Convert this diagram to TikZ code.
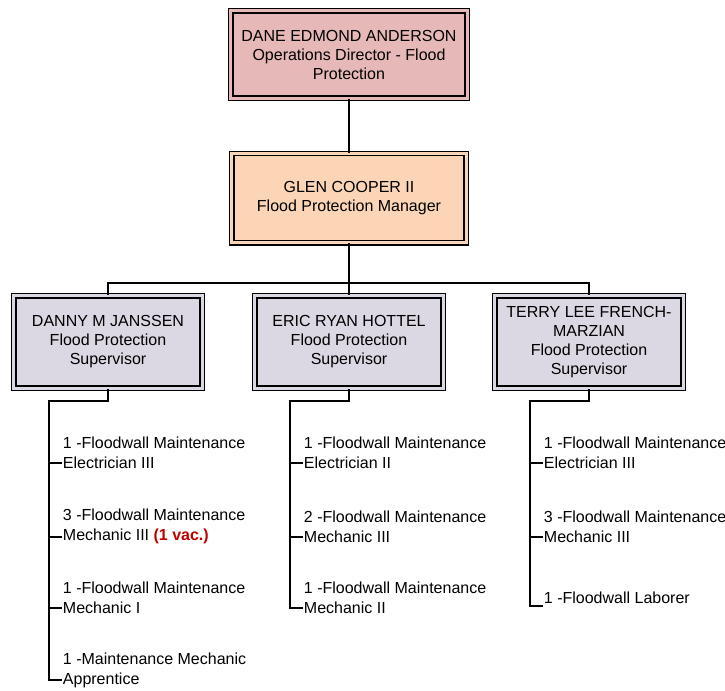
\documentclass[tikz,border=0pt]{standalone}
\usepackage{fontspec}
\setmainfont{Liberation Sans}
\definecolor{chiefpink}{HTML}{E6B8B7}
\definecolor{mgrpeach}{HTML}{FBD5B5}
\definecolor{supgray}{HTML}{DCD8E3}
\definecolor{vacred}{HTML}{C00000}
\begin{document}
\begin{tikzpicture}[x=0.75pt, y=-0.75pt, font=\fontsize{12}{14.25}\selectfont,
  box/.style={draw, line width=1pt, double distance=2.25pt, align=center, inner sep=2pt},
  chief/.style={box, fill=chiefpink, double=chiefpink, minimum width=177.25pt, minimum height=65.5pt},
  mgr/.style={box, fill=mgrpeach, double=mgrpeach, minimum width=175.75pt, minimum height=67pt},
  sup/.style={box, fill=supgray, double=supgray, minimum width=141.25pt, minimum height=69.25pt},
  post/.style={align=left, anchor=west, inner sep=0.5pt, font=\fontsize{12}{15}\selectfont},
  link/.style={line width=1.5pt}]
\useasboundingbox (0,0) rectangle (725,690);

\node[chief] (dir) at (349,54.5) {DANE EDMOND ANDERSON\\Operations Director - Flood\\Protection};
\node[mgr] (fpm) at (349,198) {GLEN COOPER II\\Flood Protection Manager};
\node[sup] (janssen) at (108,342) {DANNY M JANSSEN\\Flood Protection\\Supervisor};
\node[sup] (hottel) at (349,342) {ERIC RYAN HOTTEL\\Flood Protection\\Supervisor};
\node[sup] (french) at (589,342) {TERRY LEE FRENCH-\\MARZIAN\\Flood Protection\\Supervisor};

% positions under each supervisor
\node[post] (j1) at (62,453) {1 -Floodwall Maintenance\\Electrician III};
\node[post] (j2) at (62,526.5) {3 -Floodwall Maintenance\\Mechanic III \textcolor{vacred}{\bfseries(1 vac.)}};
\node[post] (j3) at (62,598) {1 -Floodwall Maintenance\\Mechanic I};
\node[post] (j4) at (62,670) {1 -Maintenance Mechanic\\Apprentice};

\node[post] (h1) at (303,453) {1 -Floodwall Maintenance\\Electrician II};
\node[post] (h2) at (303,526.5) {2 -Floodwall Maintenance\\Mechanic III};
\node[post] (h3) at (303,598) {1 -Floodwall Maintenance\\Mechanic II};

\node[post] (f1) at (543,453) {1 -Floodwall Maintenance\\Electrician III};
\node[post] (f2) at (543,526.5) {3 -Floodwall Maintenance\\Mechanic III};
\node[post] (f3) at (543,598) {1 -Floodwall Laborer};

\coordinate (bar) at (349,283);
\coordinate (jbus) at (49,401);
\coordinate (hbus) at (290,401);
\coordinate (fbus) at (530,401);

\draw[link] (dir) -- (fpm);
\draw[link] (fpm) -- (hottel);
\draw[link] (fpm.south) -- (bar) -| (janssen.north);
\draw[link] (bar) -| (french.north);

\draw[link] (janssen.south) |- (jbus) |- ([yshift=-7.5pt]j4.west);
\draw[link] (jbus) |- ([yshift=-7.5pt]j1.west);
\draw[link] (jbus) |- ([yshift=-7.5pt]j2.west);
\draw[link] (jbus) |- ([yshift=-7.5pt]j3.west);

\draw[link] (hottel.south) |- (hbus) |- ([yshift=-7.5pt]h3.west);
\draw[link] (hbus) |- ([yshift=-7.5pt]h1.west);
\draw[link] (hbus) |- ([yshift=-7.5pt]h2.west);

\draw[link] (french.south) |- (fbus) |- ([yshift=-6pt]f3.west);
\draw[link] (fbus) |- ([yshift=-7.5pt]f1.west);
\draw[link] (fbus) |- ([yshift=-7.5pt]f2.west);
\end{tikzpicture}
\end{document}
